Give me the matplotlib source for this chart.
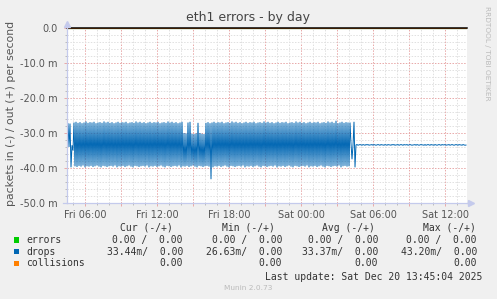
import matplotlib
matplotlib.use("Agg")
import matplotlib.pyplot as plt
from matplotlib.patches import Rectangle
from matplotlib.lines import Line2D
import numpy as np

W, H = 497, 299

# ---------------- data ----------------
title = "eth1 errors - by day"
ylabel = "packets in (-) / out (+) per second"
start_hour = 4.5          # Fri 04:30 (hours since Fri 00:00)
end_hour = 37.833         # Sat 13:50
step_hour = 5.0 / 60.0    # 5 minute samples

xtick_hours = [6, 12, 18, 24, 30, 36]
xtick_labels = ["Fri 06:00", "Fri 12:00", "Fri 18:00", "Sat 00:00", "Sat 06:00", "Sat 12:00"]
ytick_values = [0, -10, -20, -30, -40, -50]
ytick_labels = ["0.0", "-10.0 m", "-20.0 m", "-30.0 m", "-40.0 m", "-50.0 m"]

# drops, received side (drawn negative), in milli-packets/s
drops_in = [
    -33.5, -27.2, -34.0, -27.3, -39.8, -33.5, -35.0, -27.0, -39.5, -26.8, -39.7, -27.1, -39.4, -26.9, -39.6, -27.2, -39.3, -27.0, -39.8, -26.7,
    -39.5, -27.1, -39.6, -26.9, -39.4, -27.0, -39.7, -26.8, -39.5, -27.2, -39.3, -27.0, -39.6, -26.9, -39.8, -27.1, -39.4, -26.7, -39.5, -27.0,
    -39.7, -26.8, -39.5, -27.1, -39.4, -26.9, -39.6, -27.2, -39.3, -27.0, -39.8, -26.8, -39.5, -27.1, -39.6, -26.9, -39.4, -27.0, -39.7, -26.8,
    -39.5, -27.2, -39.3, -27.0, -39.6, -26.9, -39.8, -27.1, -39.4, -26.7, -39.5, -27.0, -39.7, -26.8, -39.5, -27.1, -39.4, -26.9, -39.6, -27.2,
    -39.3, -27.0, -39.8, -26.8, -39.5, -27.1, -39.6, -26.9, -39.4, -27.0, -39.7, -26.8, -39.5, -27.2, -39.3, -27.0, -39.6, -26.9, -39.8, -27.1,
    -39.4, -26.7, -39.5, -27.0, -39.7, -26.8, -39.5, -27.1, -39.4, -26.9, -39.6, -27.2, -39.3, -27.0, -39.8, -26.8, -39.5, -30.0, -39.6, -30.1,
    -39.4, -27.0, -39.7, -26.8, -39.5, -30.2, -39.3, -30.3, -39.6, -30.1, -39.8, -27.1, -39.4, -30.0, -39.5, -30.2, -39.7, -30.3, -39.5, -27.1,
    -39.4, -26.9, -39.6, -27.2, -43.2, -27.0, -39.8, -26.8, -39.5, -27.1, -39.6, -26.9, -39.4, -27.0, -39.7, -26.8, -39.5, -27.2, -39.3, -27.0,
    -39.6, -26.9, -39.8, -27.1, -39.4, -26.7, -39.5, -27.0, -39.7, -26.8, -39.5, -27.1, -39.4, -26.9, -39.6, -27.2, -39.3, -27.0, -39.8, -26.8,
    -39.5, -27.1, -39.6, -26.9, -39.4, -27.0, -39.7, -26.8, -39.5, -27.2, -39.3, -27.0, -39.6, -26.9, -39.8, -27.1, -39.4, -26.7, -39.5, -27.0,
    -39.7, -26.8, -39.5, -27.1, -39.4, -26.9, -39.6, -27.2, -39.3, -27.0, -39.8, -26.8, -39.5, -27.1, -39.6, -26.9, -39.4, -27.0, -39.7, -26.8,
    -39.5, -27.2, -39.3, -27.0, -39.6, -26.9, -39.8, -27.1, -39.4, -26.7, -39.5, -27.0, -39.7, -26.8, -39.5, -27.1, -39.4, -26.9, -39.6, -27.2,
    -39.3, -27.0, -39.8, -26.8, -39.5, -27.1, -39.6, -26.9, -39.4, -27.0, -39.7, -26.8, -39.5, -27.2, -39.3, -27.0, -39.6, -26.9, -39.8, -27.1,
    -39.4, -26.7, -39.5, -27.0, -39.7, -26.8, -39.5, -27.1, -39.4, -26.5, -39.6, -27.2, -39.3, -27.0, -39.8, -26.8, -39.5, -27.1, -39.4, -26.9,
    -39.6, -27.0, -39.5, -27.0, -33.0, -37.5, -33.5, -26.8, -39.8, -33.4, -33.3, -33.5, -33.4, -33.3, -33.4, -33.5, -33.3, -33.4, -33.5, -33.3,
    -33.4, -33.3, -33.5, -33.4, -33.4, -33.3, -33.5, -33.3, -33.4, -33.5, -33.4, -33.3, -33.4, -33.5, -33.3, -33.4, -33.4, -33.5, -33.3, -33.4,
    -33.5, -33.3, -33.4, -33.4, -33.5, -33.3, -33.4, -33.3, -33.5, -33.4, -33.4, -33.3, -33.5, -33.4, -33.3, -33.4, -33.5, -33.3, -33.4, -33.4,
    -33.3, -33.5, -33.4, -33.3, -33.4, -33.5, -33.4, -33.4, -33.3, -33.5, -33.3, -33.4, -33.5, -33.4, -33.3, -33.4, -33.4, -33.5, -33.3, -33.5,
    -33.4, -33.3, -33.4, -33.5, -33.3, -33.4, -33.4, -33.5, -33.3, -33.4, -33.5, -33.4, -33.3, -33.4, -33.5, -33.3, -33.4, -33.4, -33.3, -33.5,
    -33.4, -33.4, -33.3, -33.5, -33.4, -33.3, -33.4, -33.5, -33.4, -33.3, -33.4, -33.5, -33.3, -33.4, -33.4, -33.5, -33.3, -33.4, -33.5, -33.44,
]
n = len(drops_in)
errors_vals = [0.0] * n
drops_out = [0.0] * n
collisions_vals = [0.0] * n

legend_names = ["errors", "drops", "collisions"]
legend_colors = ["#00CC00", "#0066B3", "#FF8000"]
col_headers = ["Cur (-/+)", "Min (-/+)", "Avg (-/+)", "Max (-/+)"]
cur_vals = ["0.00 /  0.00", "33.44m/  0.00", "0.00"]
min_vals = ["0.00 /  0.00", "26.63m/  0.00", "0.00"]
avg_vals = ["0.00 /  0.00", "33.37m/  0.00", "0.00"]
max_vals = ["0.00 /  0.00", "43.20m/  0.00", "0.00"]
last_update = "Last update: Sat Dec 20 13:45:04 2025"
munin_ver = "Munin 2.0.73"
rrd_credit = "RRDTOOL / TOBI OETIKER"

# ---------------- figure ----------------
BG = "#F0F0F0"
fig = plt.figure(figsize=(W / 100, H / 100), dpi=100, facecolor=BG)

def fx(px):
    return px / W

def fy(py):
    return 1 - py / H

L, R, T, B = 67, 467, 28, 203
ax = fig.add_axes([fx(L), fy(B), (R - L) / W, (B - T) / H])
ax.set_facecolor("white")

times = start_hour + step_hour * np.arange(n)

ax.set_xlim(start_hour, end_hour)
ax.set_ylim(-50, 0)

# grids
minor_col = "#E0E0E0"
major_col = "#E8A8A8"
dash = (0, (1.5, 1.5))
ax.set_xticks(np.arange(6, 37, 3))
ax.set_xticks(np.arange(5, 38, 1), minor=True)
ax.set_yticks(ytick_values)
ax.set_yticks(np.arange(-50, 1, 2), minor=True)
ax.grid(which="minor", color=minor_col, linestyle=dash, linewidth=0.7)
ax.grid(which="major", color=major_col, linestyle=dash, linewidth=0.7)
ax.set_axisbelow(True)

major_labels = []
for h in np.arange(6, 37, 3):
    if h in xtick_hours:
        major_labels.append(xtick_labels[xtick_hours.index(h)])
    else:
        major_labels.append("")
ax.set_xticklabels(major_labels)
ax.set_yticklabels(ytick_labels)

ax.tick_params(axis="both", which="major", length=2.5, width=0.7, color=major_col,
               labelsize=7, labelcolor="#555555", pad=2.5)
ax.tick_params(axis="both", which="minor", length=1.5, width=0.7, color="#BBBBBB")
ax.tick_params(axis="y", which="major", pad=4.5)

for s in ["top", "right"]:
    ax.spines[s].set_visible(False)
axis_col = "#C4CAEC"
for s in ["left", "bottom"]:
    ax.spines[s].set_color(axis_col)
    ax.spines[s].set_linewidth(0.9)

# data lines
ax.plot(times, errors_vals, color=legend_colors[0], lw=0.8)
ax.plot(times, drops_out, color=legend_colors[1], lw=0.8)
ax.plot(times, collisions_vals, color=legend_colors[2], lw=0.8)
ax.plot(times, drops_in, color=legend_colors[1], lw=0.7, solid_joinstyle="miter")
ax.axhline(0, color="black", lw=1.1, clip_on=False, zorder=5)

# axis arrows
fig.add_artist(Line2D([fx(L), fx(L)], [fy(T), fy(24)], color=axis_col, lw=0.9))
fig.add_artist(Line2D([fx(R), fx(470)], [fy(B), fy(B)], color=axis_col, lw=0.9))
fig.add_artist(Line2D([fx(63), fx(L)], [fy(B), fy(B)], color=axis_col, lw=0.9))
fig.add_artist(Line2D([fx(L)], [fy(24)], marker="^", color=axis_col, markersize=4, lw=0))
fig.add_artist(Line2D([fx(471)], [fy(B)], marker=">", color=axis_col, markersize=4, lw=0))

# texts
fig.text(fx(248), fy(18), title, ha="center", va="center", fontsize=9, color="#444444")
fig.text(fx(11.5), fy(113.5), ylabel, rotation=90, ha="center", va="center",
         fontsize=7.8, color="#555555")
fig.text(fx(487), fy(53), rrd_credit, rotation=270, ha="center", va="center",
         fontsize=5.3, color="#BBBBBB")

mono = "DejaVu Sans Mono"
lfs = 7
txt_col = "#333333"
header_y = 228
row_y = [240, 251.7, 263.5]
header_right = [173, 275, 375, 476]
value_right = [183, 282, 378, 477]
for hx, htxt in zip(header_right, col_headers):
    fig.text(fx(hx), fy(header_y), htxt, ha="right", va="center", family=mono,
             fontsize=lfs, color=txt_col)
for ri, (name, col) in enumerate(zip(legend_names, legend_colors)):
    y = row_y[ri]
    fig.add_artist(Rectangle((fx(14), fy(y + 2.6)), 5.4 / W, 5.4 / H,
                             facecolor=col, edgecolor="none"))
    fig.text(fx(26.5), fy(y), name, ha="left", va="center", family=mono,
             fontsize=lfs, color=txt_col)
    for vx, vals in zip(value_right, [cur_vals, min_vals, avg_vals, max_vals]):
        fig.text(fx(vx), fy(y), vals[ri], ha="right", va="center", family=mono,
                 fontsize=lfs, color=txt_col)

fig.text(fx(482), fy(276.5), last_update, ha="right", va="center", family=mono,
         fontsize=lfs, color=txt_col)
fig.text(fx(248), fy(287.5), munin_ver, ha="center", va="center", fontsize=5.3,
         color="#BBBBBB")

fig.savefig("out.png", dpi=100, facecolor=BG)
